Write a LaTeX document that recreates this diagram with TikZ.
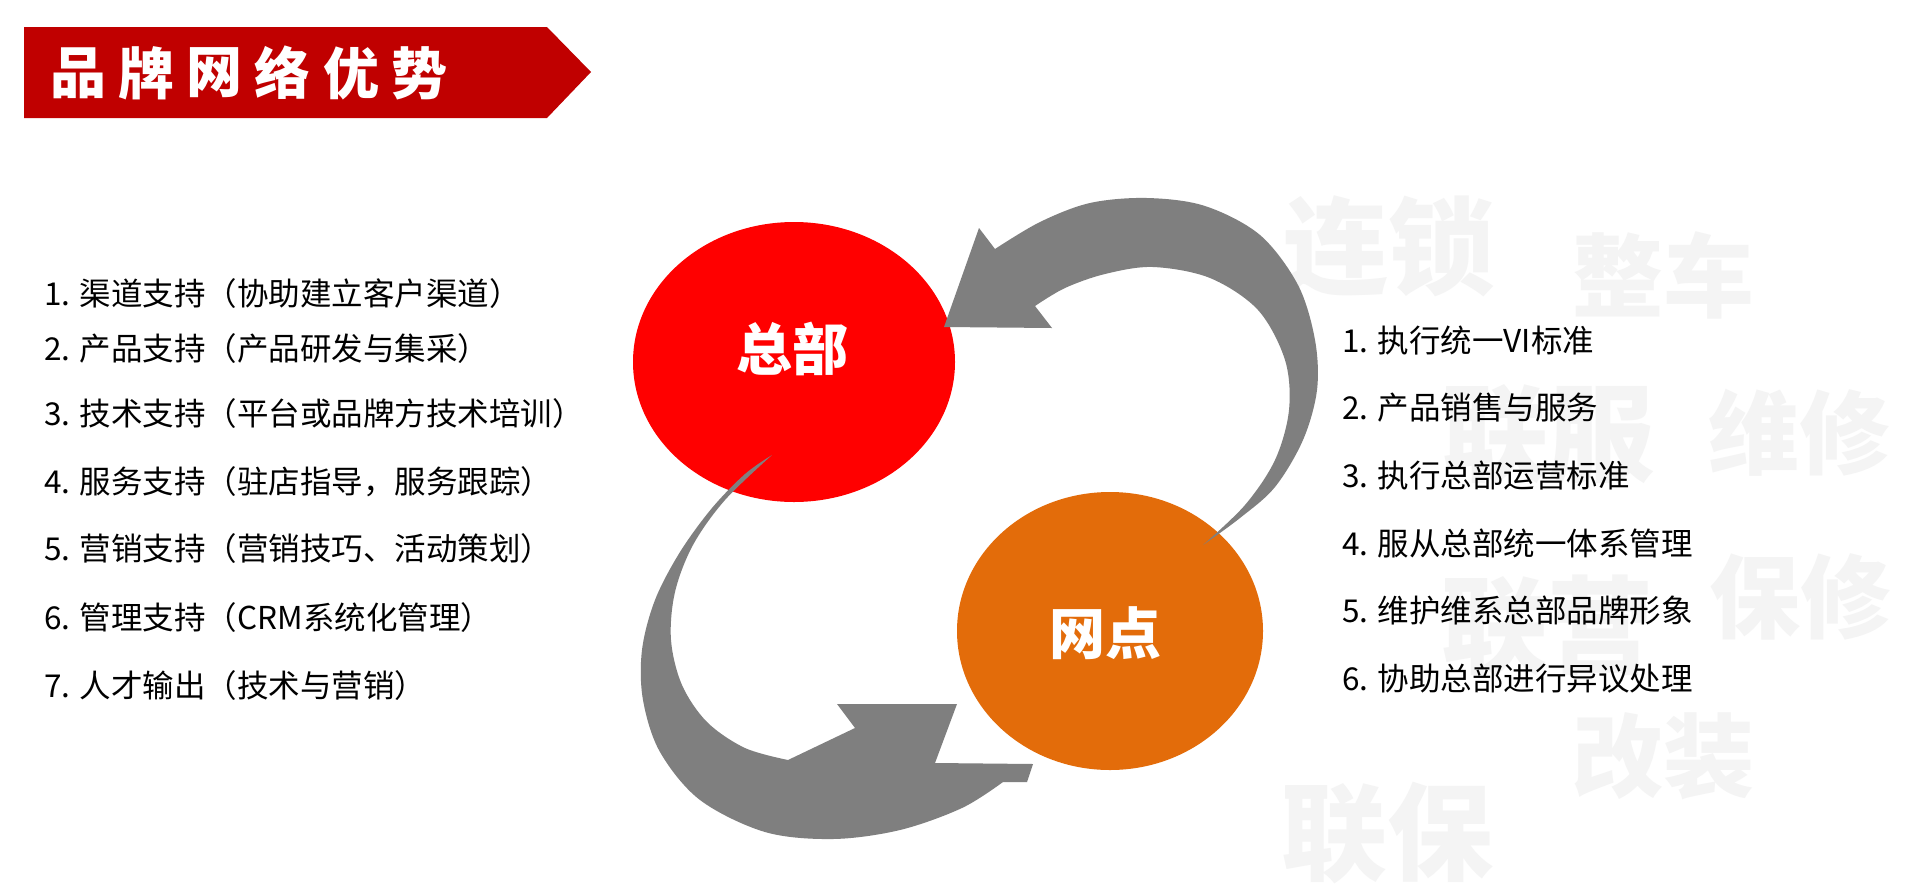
\documentclass[tikz,border=0pt]{standalone}
\usepackage{fontspec}
\setmainfont{Noto Sans CJK SC}
\usetikzlibrary{shapes.geometric}
\definecolor{bannerred}{HTML}{C00000}
\definecolor{hqred}{HTML}{FF0000}
\definecolor{netorange}{HTML}{E36C0A}
\definecolor{arrowgray}{HTML}{7F7F7F}
\definecolor{wmgray}{HTML}{F4F4F4}
\begin{document}
\begin{tikzpicture}[x=1pt,y=-1pt,
  wmbig/.style={text=wmgray,font=\fontsize{106}{106}\selectfont\bfseries,inner sep=0},
  wmsmall/.style={text=wmgray,font=\fontsize{91}{91}\selectfont\bfseries,inner sep=0},
  item/.style={anchor=west,inner sep=0,font=\fontsize{31.5}{36}\selectfont,text=black},
  titlechar/.style={text=white,font=\fontsize{56}{56}\selectfont\bfseries,inner sep=0},
  hublabel/.style={text=white,font=\fontsize{56}{56}\selectfont\bfseries,inner sep=0},
  hub/.style={ellipse,draw=none,inner sep=0}
]
\useasboundingbox (0,0) rectangle (1920,895);
\fill[white] (0,0) rectangle (1920,895);

% watermarks
\node[wmbig]   (wm1) at (1388,247) {连锁};
\node[wmsmall] (wm2) at (1663,275) {整车};
\node[wmbig]   (wm3) at (1548,435) {联服};
\node[wmsmall] (wm4) at (1799,433) {维修};
\node[wmsmall] (wm5) at (1800,597) {保修};
\node[wmbig]   (wm6) at (1547,626) {联营};
\node[wmsmall] (wm7) at (1663,756) {改装};
\node[wmbig]   (wm8) at (1387,833) {联保};

% title banner
\fill[bannerred] (24,27) -- (547,27) -- (591,72) -- (547,118) -- (24,118) -- cycle;
\foreach \c [count=\i from 0] in {品,牌,网,络,优,势}
  \node[titlechar] (t\i) at (78+68.3*\i,73) {\c};

% hubs
\node[hub,fill=hqred,minimum width=322,minimum height=280] (hq) at (794,362) {};
\node[hub,fill=netorange,minimum width=306,minimum height=278] (net) at (1110,631) {};

% upper arrow: net -> hq
\fill[arrowgray]
  plot[smooth,tension=0.55] coordinates {(1203,545) (1240,518) (1275,487) (1303,440) (1317,390) (1315,340) (1298,285) (1260,235) (1205,206) (1147,198) (1090,203) (1040,222) (995,249)}
  -- (979,228) -- (944,327) -- (1052,328) -- (1035,306)
  -- plot[smooth,tension=0.55] coordinates {(1035,306) (1065,288) (1105,274) (1153,267) (1210,278) (1258,310) (1285,360) (1289,410) (1275,460) (1245,505) (1203,545)}
  -- cycle;

% lower arrow: hq -> net
\fill[arrowgray]
  plot[smooth,tension=0.55] coordinates {(772,455) (745,474) (712,508) (680,552) (655,600) (642,650) (643,700) (660,752) (700,800) (765,832) (833,839) (900,830) (962,808) (1003,782)}
  -- (1027,782) -- (1033,764) -- (935,763) -- (957,704) -- (837,704) -- (855,728) -- (788,760)
  -- plot[smooth,tension=0.55] coordinates {(788,760) (745,748) (707,722) (682,685) (671,640) (675,592) (693,545) (725,500) (772,455)}
  -- cycle;

\node[hublabel] (hqtext) at (792,349) {总部};
\node[hublabel] (nettext) at (1105,633) {网点};

% left list
\node[item] (l1) at (44,294) {1. 渠道支持（协助建立客户渠道）};
\node[item] (l2) at (44,349) {2. 产品支持（产品研发与集采）};
\node[item] (l3) at (44,414) {3. 技术支持（平台或品牌方技术培训）};
\node[item] (l4) at (44,482) {4. 服务支持（驻店指导，服务跟踪）};
\node[item] (l5) at (44,549) {5. 营销支持（营销技巧、活动策划）};
\node[item] (l6) at (44,618) {6. 管理支持（CRM系统化管理）};
\node[item] (l7) at (44,686) {7. 人才输出（技术与营销）};

% right list
\node[item] (r1) at (1342,341) {1. 执行统一VI标准};
\node[item] (r2) at (1342,408) {2. 产品销售与服务};
\node[item] (r3) at (1342,476) {3. 执行总部运营标准};
\node[item] (r4) at (1342,543) {4. 服从总部统一体系管理};
\node[item] (r5) at (1342,611) {5. 维护维系总部品牌形象};
\node[item] (r6) at (1342,679) {6. 协助总部进行异议处理};
\end{tikzpicture}
\end{document}
